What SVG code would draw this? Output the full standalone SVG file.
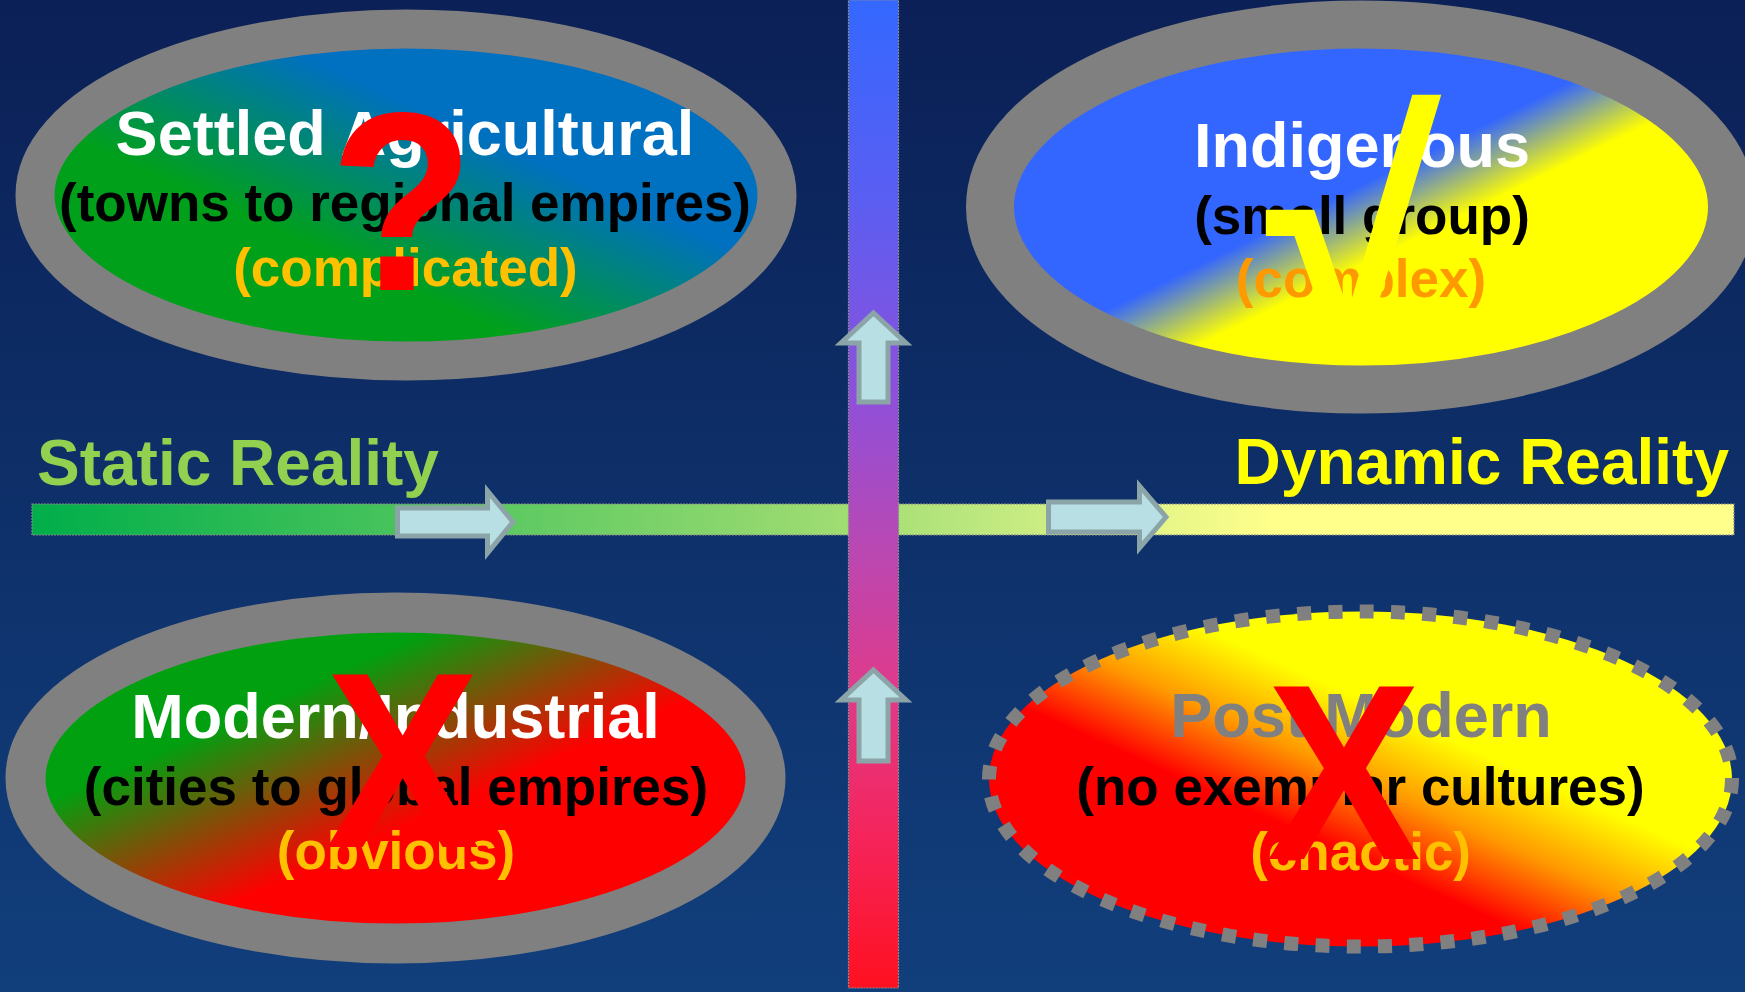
<svg xmlns="http://www.w3.org/2000/svg" width="1745" height="992" viewBox="0 0 1745 992">
<defs>
<style>
.t{font-family:"Liberation Sans",Arial,sans-serif;font-weight:bold;text-anchor:middle}
.h{font-size:63px}
.s{font-size:53px}
.ring{stroke:#808080}
.arrow{fill:#B8E0E4;stroke:#8BA4A8;stroke-width:5;stroke-linejoin:miter}
.bar{stroke:#8A8A8A;stroke-width:1.2;stroke-dasharray:2 1}
.mark{font-family:"Liberation Sans",Arial,sans-serif;font-weight:bold;fill:#FF0000;text-anchor:middle}
</style>
<linearGradient id="bg" x1="0" y1="0" x2="0" y2="1">
<stop offset="0" stop-color="#0B2056"/>
<stop offset="1" stop-color="#113F7C"/>
</linearGradient>
<linearGradient id="gTL" x1="0" y1="1" x2="1" y2="0">
<stop offset="0.36" stop-color="#00A01A"/>
<stop offset="0.64" stop-color="#0070C0"/>
</linearGradient>
<linearGradient id="gTR" x1="0" y1="0" x2="1" y2="1">
<stop offset="0.47" stop-color="#3366FF"/>
<stop offset="0.58" stop-color="#FFFF00"/>
</linearGradient>
<linearGradient id="gBL" x1="0" y1="0" x2="1" y2="1">
<stop offset="0.3" stop-color="#00A010"/>
<stop offset="0.58" stop-color="#FF0000"/>
</linearGradient>
<linearGradient id="gBR" x1="0" y1="1" x2="1" y2="0">
<stop offset="0.38" stop-color="#FF0000"/>
<stop offset="0.5" stop-color="#FF9900"/>
<stop offset="0.62" stop-color="#FFFF00"/>
</linearGradient>
<linearGradient id="gH" x1="32" y1="0" x2="1734" y2="0" gradientUnits="userSpaceOnUse">
<stop offset="0" stop-color="#00AE4A"/>
<stop offset="0.47" stop-color="#9EDC72"/>
<stop offset="0.56" stop-color="#BEE880"/>
<stop offset="0.73" stop-color="#FFFF8C"/>
<stop offset="1" stop-color="#FFFF8C"/>
</linearGradient>
<linearGradient id="gV" x1="0" y1="0" x2="0" y2="988" gradientUnits="userSpaceOnUse">
<stop offset="0" stop-color="#3468FF"/>
<stop offset="0.2" stop-color="#5A5EF2"/>
<stop offset="0.4" stop-color="#8E50DA"/>
<stop offset="0.55" stop-color="#B848B4"/>
<stop offset="0.7" stop-color="#E03A8A"/>
<stop offset="0.85" stop-color="#F5245A"/>
<stop offset="1" stop-color="#FF1020"/>
</linearGradient>
</defs>
<rect x="0" y="0" width="1745" height="992" fill="url(#bg)"/>

<g id="connectors">
<rect class="bar" x="32" y="504" width="1702" height="31" fill="url(#gH)"/>
<rect class="bar" x="848.5" y="0" width="50" height="988" fill="url(#gV)"/>
<polygon class="arrow" points="397.5,508 487.5,508 487.5,491 513,522 487.5,553 487.5,536 397.5,536"/>
<polygon class="arrow" points="1048.5,502 1139.5,502 1139.5,486 1166,517 1139.5,548 1139.5,532 1048.5,532"/>
<polygon class="arrow" points="873.5,313 906,343 888,343 888,402 859,402 859,343 841,343"/>
<polygon class="arrow" points="873.5,670 906,700 888,700 888,761 859,761 859,700 841,700"/>
</g>

<g id="label-static">
<text x="37" y="485" font-family="Liberation Sans, Arial, sans-serif" font-weight="bold" font-size="64" fill="#92D050">Static Reality</text>
</g>
<g id="label-dynamic">
<text x="1729" y="484" font-family="Liberation Sans, Arial, sans-serif" font-weight="bold" font-size="64" fill="#FFFF00" text-anchor="end">Dynamic Reality</text>
</g>

<g id="node-settled-agricultural">
<ellipse class="ring" cx="406" cy="195" rx="371" ry="166" stroke-width="39" fill="url(#gTL)"/>
<text class="t h" x="405" y="155" fill="#FFFFFF">Settled Agricultural</text>
<text class="t s" x="405" y="221" fill="#000000">(towns to regional empires)</text>
<text class="t s" x="405.5" y="286" fill="#FFC000">(complicated)</text>
<text class="mark" font-size="254" transform="translate(402 290) scale(0.93 1)">?</text>
</g>

<g id="node-indigenous">
<ellipse class="ring" cx="1361" cy="207" rx="371" ry="182.5" stroke-width="48" fill="url(#gTR)"/>
<text class="t h" x="1362" y="167" fill="#FFFFFF">Indigenous</text>
<text class="t s" x="1362" y="234" fill="#000000">(small group)</text>
<text class="t s" x="1361" y="297" fill="#FF9900">(complex)</text>
<text font-family="Liberation Sans, Arial, sans-serif" font-weight="bold" font-size="325" fill="#FFFF00" transform="translate(1265.5 351.7) scale(0.98 1)">√</text>
</g>

<g id="node-modern-industrial">
<ellipse class="ring" cx="395.5" cy="778" rx="370" ry="165.5" stroke-width="40" fill="url(#gBL)"/>
<text class="t h" x="395.6" y="738" fill="#FFFFFF">Modern/Industrial</text>
<text class="t s" x="396" y="805" fill="#000000">(cities to global empires)</text>
<text class="t s" x="396" y="869" fill="#FFC000">(obvious)</text>
<text class="mark" font-size="250" transform="translate(402.5 847) scale(0.925 1)">X</text>
</g>

<g id="node-post-modern">
<ellipse cx="1360.5" cy="779" rx="371.5" ry="167.5" fill="url(#gBR)" stroke="#808080" stroke-width="14" stroke-dasharray="14 17.3"/>
<text class="t h" x="1361" y="737" fill="#808080">Post Modern</text>
<text class="t s" x="1360.5" y="805" fill="#000000">(no exemplar cultures)</text>
<text class="t s" x="1360.6" y="870" fill="#FFC000">(chaotic)</text>
<text class="mark" font-size="250" transform="translate(1343.8 859) scale(0.925 1)">X</text>
</g>
</svg>
